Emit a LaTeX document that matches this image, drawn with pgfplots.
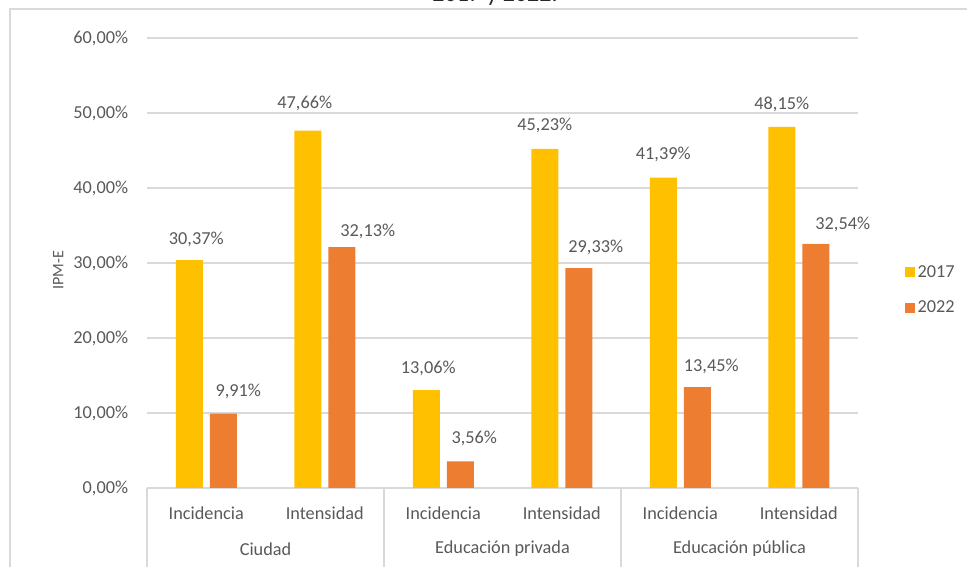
\documentclass[border=0pt]{standalone}
\usepackage{pgfplots}
\pgfplotsset{compat=1.18}
\usepackage{pgfplotstable}
\usepackage{fontspec}
\setmainfont{Carlito}
\definecolor{c17}{HTML}{FFC000}
\definecolor{c22}{HTML}{ED7D31}
\definecolor{txt}{HTML}{595959}
\definecolor{gridc}{HTML}{D9D9D9}
\pgfplotstableread{
x y dx dy
0 30.37 7 21
1 47.66 -3 27
2 13.06 2 22
3 45.23 0 23
4 41.39 0 23
5 48.15 0 22
}\dataA
\pgfplotstableread{
x y dx dy
0 9.91 15 22
1 32.13 26 16
2 3.56 14 23
3 29.33 17 21
4 13.45 14 21
5 32.54 27 20
}\dataB
\begin{document}
\begin{tikzpicture}
\useasboundingbox (0pt,0pt) rectangle (725.25pt,425.25pt);
\draw[gridc, line width=0.8pt] (7.5pt,-2pt) -- (7.5pt,418.5pt) -- (727pt,418.5pt);
\node[anchor=base, font=\fontsize{18}{20}\selectfont, text=black!85] at (371.25pt,423.8pt) {2017 y 2022.};
\begin{axis}[
  at={(110.25pt,59.25pt)}, anchor=south west,
  scale only axis, width=533.25pt, height=337.5pt,
  xmin=-0.5, xmax=5.5, ymin=0, ymax=60,
  ybar=5.25pt, bar width=20.25pt,
  clip=false,
  axis x line*=bottom, axis y line*=left,
  y axis line style={draw=none},
  x axis line style={draw=gridc, line width=0.8pt, -},
  ymajorgrids, grid style={gridc, line width=0.8pt},
  major tick length=0pt,
  ytick={0,10,20,30,40,50,60},
  yticklabels={{0,00\%},{10,00\%},{20,00\%},{30,00\%},{40,00\%},{50,00\%},{60,00\%}},
  yticklabel style={anchor=east, inner sep=0pt, xshift=-14pt},
  xtick={0,1,2,3,4,5},
  xticklabels={Incidencia,Intensidad,Incidencia,Intensidad,Incidencia,Intensidad},
  xticklabel style={anchor=center, inner sep=0pt, yshift=-18.75pt},
  tick label style={font=\fontsize{13.7}{16}\selectfont, text=txt},
  ylabel={IPM-E},
  every axis y label/.style={at={(rel axis cs:-0.125,0.484)}, rotate=90, anchor=center, font=\fontsize{12}{14}\selectfont, text=txt},
  nodes near coords={\pgfmathprintnumber[fixed,fixed zerofill,precision=2,use comma,assume math mode=true]{\pgfplotspointmeta}\%},
  nodes near coords style={font=\fontsize{13.7}{16}\selectfont, text=txt, anchor=center, inner sep=0pt},
  legend style={at={(rel axis cs:1.06,0.44)}, anchor=west, draw=none, fill=none, font=\fontsize{13.7}{16}\selectfont, text=txt, row sep=12pt},
  legend cell align=left,
  legend image code/.code={\fill[#1,draw=none] (0pt,-3.75pt) rectangle (7.5pt,3.75pt);},
]
\addplot[fill=c17, draw=none,
  visualization depends on={\thisrow{dx} \as \dx},
  visualization depends on={\thisrow{dy} \as \dy},
  every node near coord/.append style={xshift=\dx*0.75pt, yshift=\dy*0.75pt}]
  table[x=x,y=y] {\dataA};
\addlegendentry{2017}
\addplot[fill=c22, draw=none,
  visualization depends on={\thisrow{dx} \as \dx},
  visualization depends on={\thisrow{dy} \as \dy},
  every node near coord/.append style={xshift=\dx*0.75pt, yshift=\dy*0.75pt}]
  table[x=x,y=y] {\dataB};
\addlegendentry{2022}
\foreach \s in {-0.5,1.5,3.5,5.5}{
  \edef\tmp{\noexpand\draw[gridc, line width=0.8pt] (axis cs:\s,0) -- (axis cs:\s,-11);}
  \tmp
}
\node[font=\fontsize{13.7}{16}\selectfont, text=txt] at (axis cs:0.5,-8.13) {Ciudad};
\node[font=\fontsize{13.7}{16}\selectfont, text=txt] at (axis cs:2.5,-8.13) {Educación privada};
\node[font=\fontsize{13.7}{16}\selectfont, text=txt] at (axis cs:4.5,-8.13) {Educación pública};
\end{axis}
\end{tikzpicture}
\end{document}
